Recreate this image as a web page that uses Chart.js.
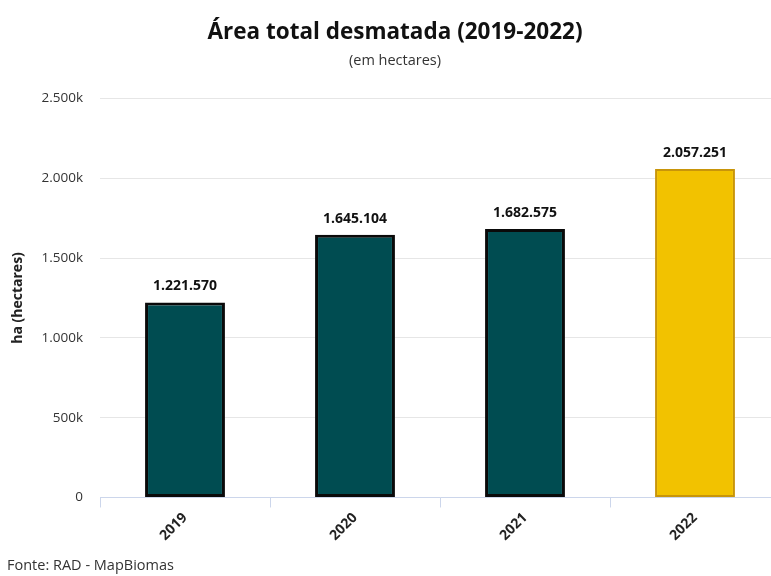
<!DOCTYPE html>
<html lang="pt-BR">
<head>
<meta charset="utf-8">
<title>Área total desmatada (2019-2022)</title>
<script src="https://cdn.jsdelivr.net/npm/chart.js@4/dist/chart.umd.min.js"></script>
<style>
  html, body { margin: 0; padding: 0; background: #fff; overflow: hidden; }
  #wrap { position: relative; width: 790px; height: 576px; }
</style>
</head>
<body>
<div id="wrap"><canvas id="chart" width="790" height="576"></canvas></div>
<script>
// Área desmatada por ano (hectares) — RAD / MapBiomas
const years = ['2019', '2020', '2021', '2022'];
const hectares = [1221570, 1645104, 1682575, 2057251];
const barColors = ['#004c51', '#004c51', '#004c51', '#f2c200'];
const barBorders = ['#0a0a0a', '#0a0a0a', '#0a0a0a', '#c8950a'];
const barBorderWidths = [3, 3, 3, 2];
const yTicks = [0, 500000, 1000000, 1500000, 2000000, 2500000];

const FONT = '"Open Sans", "Noto Sans", sans-serif';

function thousands(n) {
  return String(n).replace(/\B(?=(\d{3})+(?!\d))/g, '.');
}

// Writes each bar's value above it
const valueLabels = {
  id: 'valueLabels',
  afterDatasetsDraw(chart) {
    const ctx = chart.ctx;
    const meta = chart.getDatasetMeta(0);
    ctx.save();
    ctx.font = 'bold 14px ' + FONT;
    ctx.fillStyle = '#111';
    ctx.textAlign = 'center';
    ctx.textBaseline = 'bottom';
    meta.data.forEach((bar, i) => {
      ctx.fillText(thousands(hectares[i]), bar.x, bar.y - 9);
    });
    ctx.restore();
  }
};

// Source note in the lower left corner
const sourceNote = {
  id: 'sourceNote',
  afterDraw(chart) {
    const ctx = chart.ctx;
    ctx.save();
    ctx.font = '14.5px ' + FONT;
    ctx.fillStyle = '#333';
    ctx.textAlign = 'left';
    ctx.textBaseline = 'middle';
    ctx.fillText('Fonte: RAD - MapBiomas', 7, 566);
    ctx.restore();
  }
};

new Chart(document.getElementById('chart'), {
  type: 'bar',
  data: {
    labels: years,
    datasets: [{
      data: hectares,
      backgroundColor: barColors,
      borderColor: barBorders,
      borderWidth: barBorderWidths,
      borderSkipped: false,
      barPercentage: 0.47,
      categoryPercentage: 1.0
    }]
  },
  options: {
    responsive: false,
    animation: false,
    layout: { padding: { top: 0, left: 10, right: 10, bottom: 30 } },
    plugins: {
      legend: { display: false },
      tooltip: { enabled: false },
      title: {
        display: true,
        text: 'Área total desmatada (2019-2022)',
        color: '#111',
        font: { family: FONT, size: 22.5, weight: 'bold' },
        padding: { top: 19, bottom: 6 }
      },
      subtitle: {
        display: true,
        text: '(em hectares)',
        color: '#333',
        font: { family: FONT, size: 14.5 },
        padding: { top: 0, bottom: 29 }
      }
    },
    scales: {
      x: {
        grid: {
          display: true,
          drawOnChartArea: false,
          drawTicks: true,
          tickLength: 10,
          color: '#ccd6eb',
          offset: true
        },
        border: { display: true, color: '#ccd6eb', width: 1 },
        ticks: {
          color: '#222',
          font: { family: FONT, size: 14, weight: 'bold' },
          minRotation: 45,
          maxRotation: 45,
          padding: 2
        }
      },
      y: {
        min: 0,
        max: 2500000,
        afterBuildTicks(axis) {
          axis.ticks = yTicks.map(v => ({ value: v }));
        },
        afterFit(axis) {
          axis.width = 90;
        },
        grid: { color: '#e6e6e6', drawTicks: false, lineWidth: 1 },
        border: { display: false },
        ticks: {
          color: '#333',
          font: { family: FONT, size: 13.5 },
          padding: 17,
          callback: v => v === 0 ? '0' : thousands(v / 1000) + 'k'
        },
        title: {
          display: true,
          text: 'ha (hectares)',
          color: '#222',
          font: { family: FONT, size: 14, weight: 'bold' },
          padding: { top: 0, bottom: 14 }
        }
      }
    }
  },
  plugins: [valueLabels, sourceNote]
});
</script>
</body>
</html>
